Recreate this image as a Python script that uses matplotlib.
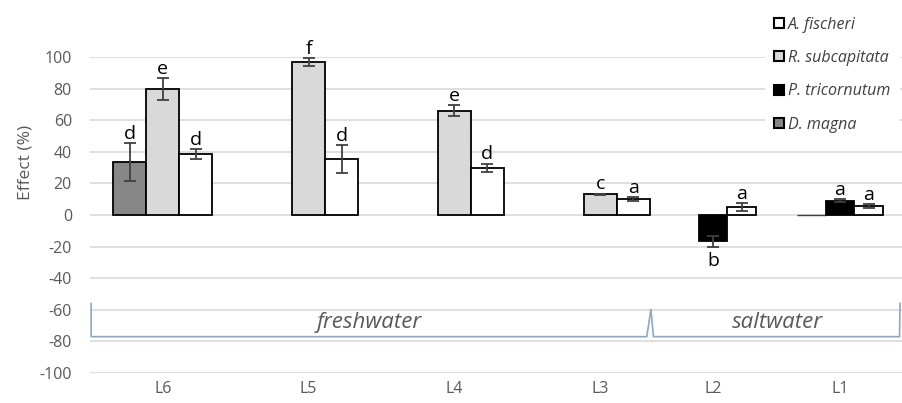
import numpy as np
import matplotlib.pyplot as plt
from matplotlib.patches import Patch
from matplotlib.transforms import blended_transform_factory

plt.rcParams['font.family'] = ['Open Sans', 'DejaVu Sans']
plt.rcParams['axes.unicode_minus'] = False

# freshwater sites
fw_sites = ['L6', 'L5', 'L4', 'L3']
fw_magna = [33.5, np.nan, np.nan, np.nan]
fw_magna_err = [12, 0, 0, 0]
fw_subcap = [79.7, 96.6, 66.0, 13.1]
fw_subcap_err = [7.0, 2.5, 3.5, 0.5]
fw_fischeri = [38.5, 35.4, 30.0, 10.1]
fw_fischeri_err = [3.0, 9.0, 2.5, 1.0]
fw_magna_lbl = ['d', '', '', '']
fw_subcap_lbl = ['e', 'f', 'e', 'c']
fw_fischeri_lbl = ['d', 'd', 'd', 'a']

# saltwater sites
sw_sites = ['L2', 'L1']
sw_subcap = [np.nan, 0.0]
sw_tricorn = [-16.5, 9.0]
sw_tricorn_err = [3.5, 1.0]
sw_fischeri = [5.0, 5.7]
sw_fischeri_err = [2.5, 1.0]
sw_tricorn_lbl = ['b', 'a']
sw_fischeri_lbl = ['a', 'a']

yticks = list(range(-100, 101, 20))

c_magna = '#878787'
c_subcap = '#d9d9d9'
c_tricorn = '#000000'
c_fischeri = '#ffffff'
txt_grey = '#595959'
grid_grey = '#d9d9d9'
brace_col = '#8fa6c4'

fig = plt.figure(figsize=(9.03, 4.03), dpi=100)
W, H = 903, 403
ax_f = fig.add_axes([90 / W, 30 / H, 583 / W, 316 / H])
ax_s = fig.add_axes([673 / W, 30 / H, 230 / W, 316 / H])


def style(ax, sites, show_y):
    ax.set_ylim(-100, 100)
    ax.set_yticks(yticks)
    ax.set_xticks(range(len(sites)))
    ax.set_xticklabels(sites)
    ax.yaxis.grid(True, color=grid_grey, linewidth=1.2)
    ax.set_axisbelow(True)
    for s in ax.spines.values():
        s.set_visible(False)
    ax.tick_params(length=0, labelsize=11.5, colors=txt_grey)
    ax.tick_params(axis='x', pad=6)
    ax.tick_params(axis='y', pad=13)
    if not show_y:
        ax.set_yticklabels([])
    ax.patch.set_alpha(0)


def letters(ax, x, vals, errs, labels):
    for xi, v, e, t in zip(x, vals, errs, labels):
        if not t or np.isnan(v):
            continue
        if v >= 0:
            ax.annotate(t, (xi, v + e), xytext=(0, 3), textcoords='offset points',
                        ha='center', va='baseline', fontsize=14, color='black')
        else:
            ax.annotate(t, (xi, v - e), xytext=(0, -4), textcoords='offset points',
                        ha='center', va='top', fontsize=14, color='black')


err_kw = dict(ecolor='#404040', elinewidth=1.3, capsize=4, capthick=1.3)

# freshwater panel
x = np.arange(len(fw_sites))
w = 0.2264
style(ax_f, fw_sites, True)
ax_f.set_xlim(-0.5, len(fw_sites) - 0.5)
ax_f.bar(x - w, fw_magna, w, yerr=fw_magna_err, color=c_magna,
         edgecolor='black', linewidth=1.3, error_kw=err_kw)
ax_f.bar(x, fw_subcap, w, yerr=fw_subcap_err, color=c_subcap,
         edgecolor='black', linewidth=1.3, error_kw=err_kw)
ax_f.bar(x + w, fw_fischeri, w, yerr=fw_fischeri_err, color=c_fischeri,
         edgecolor='black', linewidth=1.3, error_kw=err_kw)
letters(ax_f, x - w, fw_magna, fw_magna_err, fw_magna_lbl)
letters(ax_f, x, fw_subcap, fw_subcap_err, fw_subcap_lbl)
letters(ax_f, x + w, fw_fischeri, fw_fischeri_err, fw_fischeri_lbl)
ax_f.set_ylabel('Effect (%)', color=txt_grey, fontsize=12.5, va='center')
ax_f.yaxis.set_label_coords(-0.11, 0.665)

# saltwater panel
xs = np.arange(len(sw_sites))
ws = 0.228
style(ax_s, sw_sites, False)
ax_s.set_xlim(-40 / 127, -40 / 127 + 230 / 127)
ax_s.bar(xs - ws, sw_subcap, ws, color=c_subcap, edgecolor='#404040', linewidth=1.0)
ax_s.bar(xs, sw_tricorn, ws, yerr=sw_tricorn_err, color=c_tricorn,
         edgecolor='black', linewidth=1.3, error_kw=err_kw)
ax_s.bar(xs + ws, sw_fischeri, ws, yerr=sw_fischeri_err, color=c_fischeri,
         edgecolor='black', linewidth=1.3, error_kw=err_kw)
letters(ax_s, xs, sw_tricorn, sw_tricorn_err, sw_tricorn_lbl)
letters(ax_s, xs + ws, sw_fischeri, sw_fischeri_err, sw_fischeri_lbl)

# group braces under the bars
tf = blended_transform_factory(ax_f.transAxes, ax_f.transData)
ax_f.plot([0.002, 0.002, 0.955, 0.962], [-56, -77, -77, -60], color=brace_col,
          linewidth=1.2, transform=tf, clip_on=False)
ax_f.text(0.478, -68, 'freshwater', transform=tf, ha='center', va='center',
          style='italic', fontsize=16, color=txt_grey)
ts = blended_transform_factory(ax_s.transAxes, ax_s.transData)
ax_s.plot([-0.096, -0.085, 0.985, 0.987], [-60, -77, -77, -56], color=brace_col,
          linewidth=1.2, transform=ts, clip_on=False)
ax_s.text(0.452, -68, 'saltwater', transform=ts, ha='center', va='center',
          style='italic', fontsize=16, color=txt_grey)

handles = [Patch(facecolor=c_fischeri, edgecolor='black', linewidth=1.5, label='A. fischeri'),
           Patch(facecolor=c_subcap, edgecolor='black', linewidth=1.5, label='R. subcapitata'),
           Patch(facecolor=c_tricorn, edgecolor='black', linewidth=1.5, label='P. tricornutum'),
           Patch(facecolor=c_magna, edgecolor='black', linewidth=1.5, label='D. magna')]
leg = fig.legend(handles=handles, loc='upper right', bbox_to_anchor=(1.0, 0.99),
                 frameon=True, facecolor='white', edgecolor='none', framealpha=1,
                 fancybox=False, handlelength=0.6, handleheight=0.6, handletextpad=0.25,
                 labelspacing=1.08, borderpad=0.6, borderaxespad=0.2,
                 prop={'style': 'italic', 'size': 11.5})
for t in leg.get_texts():
    t.set_color('#404040')

fig.savefig('out.png', dpi=100)
